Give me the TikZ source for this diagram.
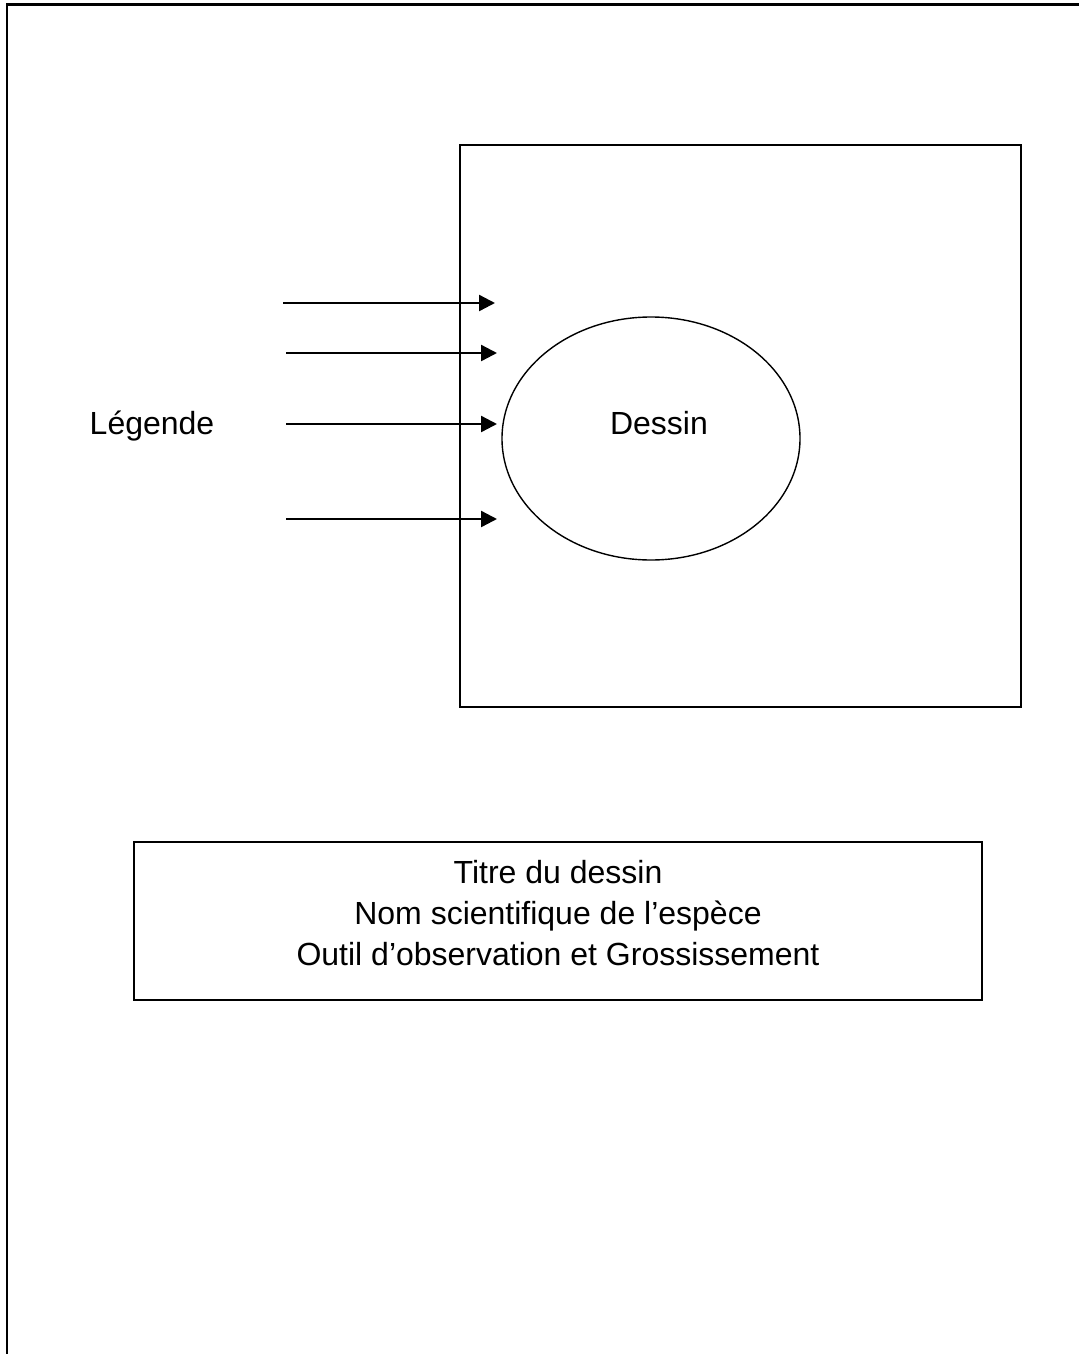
\documentclass[tikz,border=0pt]{standalone}
\usepackage{fontspec}
\setmainfont{Liberation Sans}
\usetikzlibrary{arrows.meta, shapes.geometric, positioning}

\begin{document}
\begin{tikzpicture}
  [x=0.5pt, y=-0.5pt,
   frame/.style={line width=1.1pt, line join=miter},
   box/.style={rectangle, draw, line width=1.1pt, inner sep=0pt},
   drawing/.style={ellipse, draw, line width=0.7pt, inner sep=0pt,
                   minimum width=149pt, minimum height=121.5pt},
   legendarrow/.style={-{Triangle[length=8pt,width=8pt]}, line width=1.2pt},
   txt/.style={font=\fontsize{16pt}{20.5pt}\selectfont, inner sep=0pt}]

  \useasboundingbox (0,0) rectangle (1079,1354);

  % Cadre de la page
  \draw [frame] (7,1370) -- (7,4.5) -- (1095,4.5);

  % Zone du dessin
  \node (cadre) at (740.5,426) [box, minimum width=280.5pt,
                                minimum height=281pt] {};
  \node (dessin) at (651,438.5) [drawing] {};
  \node (dessintxt) at (659,423) [txt] {Dessin};

  % Fleches de legende
  \node (legende) at (152,426) [txt] {Légende};
  \coordinate (start1) at (283,303);
  \coordinate (tip1) at (495,303);
  \coordinate (start2) at (286,353);
  \coordinate (tip2) at (497,353);
  \coordinate (start3) at (286,424);
  \coordinate (tip3) at (497,424);
  \coordinate (start4) at (286,519);
  \coordinate (tip4) at (497,519);
  \path (start1) edge [legendarrow] (tip1)
        (start2) edge [legendarrow] (tip2)
        (start3) edge [legendarrow] (tip3)
        (start4) edge [legendarrow] (tip4);

  % Titre
  \node (titrebox) at (558,921) [box, minimum width=424pt,
                                 minimum height=79pt] {};
  \node (titre1) at (558,883) [txt, anchor=base] {Titre du dessin};
  \node (titre2) at (558,924) [txt, anchor=base]
      {Nom scientifique de l’espèce};
  \node (titre3) at (558,965) [txt, anchor=base]
      {Outil d’observation et Grossissement};

\end{tikzpicture}
\end{document}
